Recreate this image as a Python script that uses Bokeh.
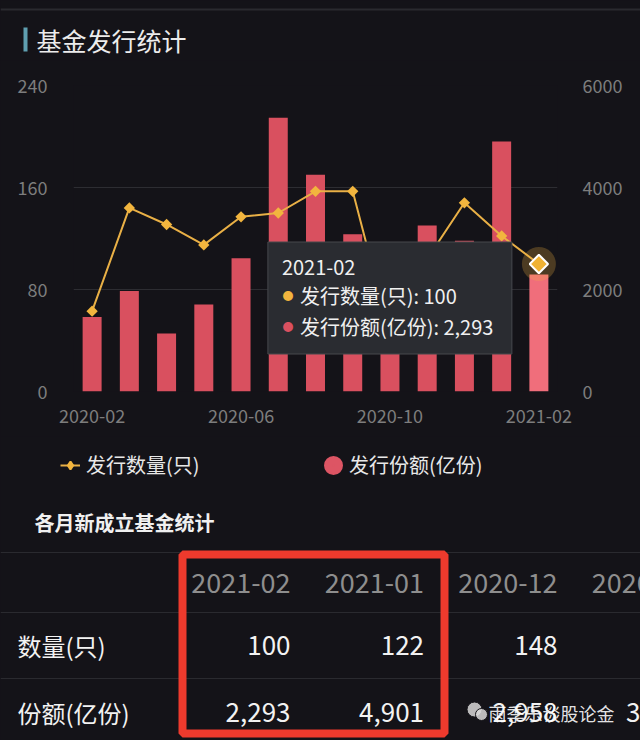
import math
from bokeh.plotting import figure
from bokeh.models import Range1d, LinearAxis, FixedTicker, ColumnDataSource, Legend, LegendItem
from bokeh.layouts import column
from bokeh.core.properties import value
from bokeh.embed import file_html
from bokeh.resources import INLINE

# ---------------- data ----------------
months = ["2020-02", "2020-03", "2020-04", "2020-05", "2020-06", "2020-07", "2020-08",
          "2020-09", "2020-10", "2020-11", "2020-12", "2021-01", "2021-02"]
counts = [63, 144, 131, 115, 137, 140, 157, 157, 45, 104, 148, 122, 100]
shares = [1460, 1970, 1135, 1706, 2612, 5368, 4252, 3084, 1700, 3254, 2958, 4901, 2293]
left_ticks = [0, 80, 160, 240]
right_ticks = [0, 2000, 4000, 6000]
label_months = ["2020-02", "2020-06", "2020-10", "2021-02"]
count_name = "发行数量(只)"
share_name = "发行份额(亿份)"
title_text = "基金发行统计"
subtitle_text = "各月新成立基金统计"
row_labels = ["数量(只)", "份额(亿份)"]
watermark = "雨季乐谈股论金"

# ---------------- style ----------------
BG = "#141318"
FONT = value("Noto Sans CJK SC")
FONT_NAME = "Noto Sans CJK SC"
W = 640
TOP_H = 60
ML, MR, MT, MB = 73, 83, 25, 45
FW = 484
FH = 306
CHART_H = MT + FH + MB
Y0 = TOP_H + CHART_H
BOT_H = 740 - Y0
BAR = "#d9505f"
BAR_HI = "#f06e7b"
GOLD = "#f2b53e"
LINE = "#e9b046"


def no_align(f):
    try:
        f.frame_align = False
    except Exception:
        pass


def plain_fig(h, y0, y1):
    f = figure(width=W, height=h, x_range=Range1d(0, W), y_range=Range1d(y1, y0),
               output_backend="svg", toolbar_location=None, min_border=0,
               x_axis_location=None, y_axis_location=None)
    f.grid.visible = False
    f.outline_line_color = None
    f.background_fill_color = BG
    f.border_fill_color = BG
    no_align(f)
    return f


# ---------------- title block ----------------
top = plain_fig(TOP_H, 0, TOP_H)
top.segment(x0=[0], y0=[9], x1=[W], y1=[9], line_color="#2a2a2f", line_width=2)
top.quad(left=[23], right=[27], top=[27], bottom=[51], fill_color="#5f9fb0", line_color=None)
top.text(x=[36], y=[39], text=[title_text], text_font=FONT, text_font_size="25px",
         text_color="#ececec", text_baseline="middle", text_align="left")

# ---------------- chart ----------------
n = len(months)
p = figure(width=W, height=CHART_H, x_range=Range1d(-0.5, n - 0.5), y_range=Range1d(0, 240),
           output_backend="svg", toolbar_location=None,
           min_border_left=ML, min_border_right=MR, min_border_top=MT, min_border_bottom=MB)
no_align(p)
p.extra_y_ranges = {"amt": Range1d(0, 6000)}
p.background_fill_color = BG
p.border_fill_color = BG
p.outline_line_color = None

right_axis = LinearAxis(y_range_name="amt", ticker=FixedTicker(ticks=right_ticks))
p.add_layout(right_axis, "right")
p.yaxis[0].ticker = FixedTicker(ticks=left_ticks)
p.xaxis[0].ticker = FixedTicker(ticks=[months.index(m) for m in label_months])
p.xaxis[0].major_label_overrides = {months.index(m): m for m in label_months}

for ax in [p.xaxis[0], p.yaxis[0], right_axis]:
    ax.axis_line_color = None
    ax.major_tick_line_color = None
    ax.minor_tick_line_color = None
    ax.major_tick_out = 0
    ax.major_tick_in = 0
    ax.major_label_text_color = "#7d7d7d"
    ax.major_label_text_font_size = "18px"
    ax.major_label_text_font = FONT_NAME
p.yaxis[0].major_label_standoff = 26
right_axis.major_label_standoff = 25
p.xaxis[0].major_label_standoff = 17

p.xgrid.visible = False
p.ygrid[0].ticker = FixedTicker(ticks=left_ticks)
p.ygrid.grid_line_color = "#2d2d32"
p.ygrid.grid_line_width = 1

idx = list(range(n))
bar_colors = [BAR] * (n - 1) + [BAR_HI]
src = ColumnDataSource(dict(x=idx, month=months, count=counts, share=shares, bar_color=bar_colors))

p.vbar(x="x", top="share", width=0.51, y_range_name="amt", source=src,
       fill_color="bar_color", line_color=None)
p.line("x", "count", source=src, line_color=LINE, line_width=2)
p.scatter("x", "count", source=src, marker="square", angle=math.pi / 4, size=8,
          fill_color=GOLD, line_color=None)

# hovered point highlight
hi = n - 1
hsrc = ColumnDataSource(dict(x=[hi], count=[counts[hi]]))
p.scatter("x", "count", source=hsrc, marker="circle", size=34, fill_color=GOLD,
          fill_alpha=0.25, line_color=None)
p.scatter("x", "count", source=hsrc, marker="square", angle=math.pi / 4, size=13,
          fill_color="#f0b233", line_color="white", line_width=2)

# tooltip anchored at the hovered point (pixel offsets converted through the scales)
px_x = FW / n
px_y = FH / 240.0
hx, hy = hi, counts[hi]
p.quad(left=[hx - 271 / px_x], right=[hx - 27 / px_x], top=[hy + 22 / px_y], bottom=[hy - 90 / px_y],
       fill_color="#2a2c31", line_color="#46484d", line_width=1)
tsrc = ColumnDataSource(dict(
    x=[hx] * 3, y=[hy] * 3,
    text=[months[hi], f"{count_name}: {counts[hi]}", f"{share_name}: {shares[hi]:,}"],
    xo=[-257, -239, -239], yo=[3, 31, 62]))
p.text("x", "y", text="text", x_offset="xo", y_offset="yo", source=tsrc, text_font=FONT,
       text_font_size="20px", text_color="#f0f0f0", text_baseline="middle", text_align="left")
bsrc = ColumnDataSource(dict(x=[hx] * 2, y=[hy] * 2, text=["●", "●"], xo=[-251, -251], yo=[31, 62],
                             c=[GOLD, BAR]))
p.text("x", "y", text="text", x_offset="xo", y_offset="yo", source=bsrc, text_font=FONT,
       text_font_size="11px", text_color="c", text_baseline="middle", text_align="center")

# ---------------- legend + table block ----------------
bot = plain_fig(BOT_H, Y0, Y0 + BOT_H)

# legend swatches (not drawn on the canvas, only in the legend)
l1 = bot.line("x", "count", source=src, line_color=LINE, line_width=2, visible=False)
d1 = bot.scatter("x", "count", source=src, marker="diamond", size=10, fill_color=GOLD,
                 line_color=GOLD, line_width=2, visible=False)
d2 = bot.scatter("x", "share", source=src, marker="circle", size=10,
                 fill_color="#dd5564", line_color="#dd5564", line_width=11, visible=False)
LEG_Y = 467
for items, lx in [([LegendItem(label=count_name, renderers=[l1, d1])], 60),
                  ([LegendItem(label=share_name, renderers=[d2])], 323)]:
    lg = Legend(items=items, location=(lx, BOT_H - (LEG_Y - Y0) - 12), orientation="horizontal")
    lg.padding = 0
    lg.margin = 0
    lg.spacing = 0
    lg.glyph_width = 20
    lg.glyph_height = 20
    lg.label_height = 20
    lg.label_standoff = 6
    lg.label_text_font = FONT_NAME
    lg.label_text_font_size = "20px"
    lg.label_text_color = "#e8e8e8"
    lg.background_fill_alpha = 0
    lg.border_line_alpha = 0
    bot.add_layout(lg)

bot.text(x=[34], y=[522], text=[subtitle_text], text_font=FONT, text_font_size="20px",
         text_font_style="bold", text_color="#f0f0f0", text_baseline="middle")
bot.segment(x0=[0, 0, 0], y0=[552, 612, 678], x1=[W, W, W], y1=[552, 612, 678],
            line_color="#2a2a2f", line_width=1)

# table: newest month first; the fourth column runs off the right edge as in the screenshot
ncols = 4
col_x = [290 + i * 133.5 for i in range(ncols)]
col_idx = [hi - i for i in range(ncols)]
bot.text(x=col_x, y=[582] * ncols, text=[months[j] for j in col_idx], text_font=FONT,
         text_font_size="27px", text_color="#8e8e8e", text_align="right", text_baseline="middle")
bot.text(x=col_x[:3], y=[645] * 3, text=[str(counts[j]) for j in col_idx[:3]], text_font=FONT,
         text_font_size="26px", text_color="#f2f2f2", text_align="right", text_baseline="middle")
bot.text(x=col_x, y=[712] * ncols, text=[f"{shares[j]:,}" for j in col_idx], text_font=FONT,
         text_font_size="26px", text_color="#f2f2f2", text_align="right", text_baseline="middle")
bot.text(x=[17, 17], y=[645, 712], text=row_labels, text_font=FONT, text_font_size="24px",
         text_color="#f2f2f2", text_align="left", text_baseline="middle")
bot.quad(left=[182], right=[444], top=[554], bottom=[733], fill_color=None,
         line_color="#ee3a2d", line_width=8)

# watermark overlay
bot.scatter(x=[474, 481], y=[709, 714], size=[15, 12], marker="circle", fill_color="#d8d8d8",
            fill_alpha=0.85, line_color="#141318", line_width=1)
bot.text(x=[488], y=[712], text=[watermark], text_font=FONT, text_font_size="18px",
         text_color="#ffffff", text_alpha=0.9, text_align="left", text_baseline="middle")

layout = column(top, p, bot, spacing=0, styles={"background-color": BG})
html = file_html(layout, INLINE)
html = html.replace("<body>", f'<body style="margin:0;background-color:{BG};">', 1)
open("out.html", "w").write(html)
